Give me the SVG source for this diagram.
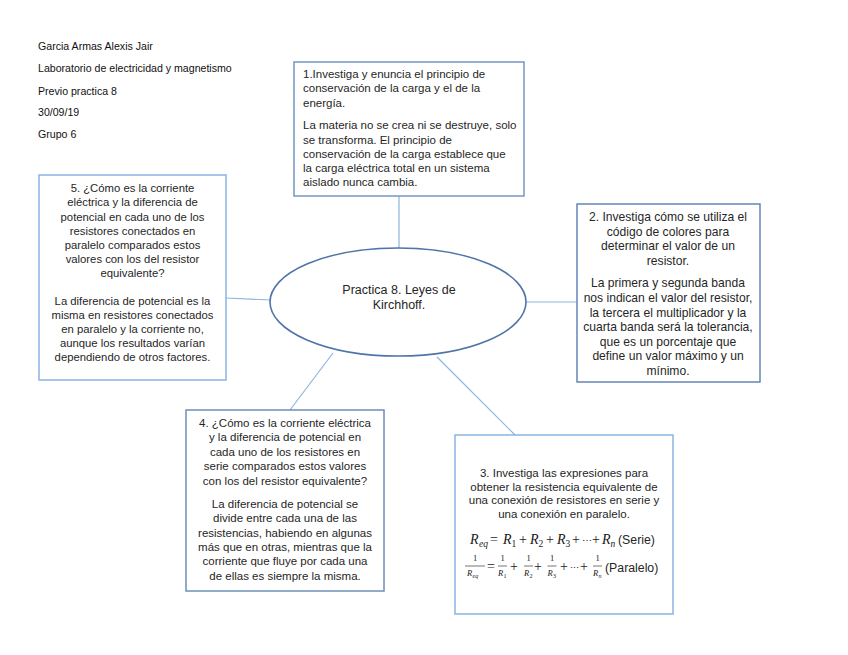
<svg xmlns="http://www.w3.org/2000/svg" width="848" height="655" viewBox="0 0 848 655">
<style>
.hdr{font-family:"Liberation Sans",Arial,sans-serif;font-size:10.6px;fill:#111}
.t{font-family:"Liberation Sans",Arial,sans-serif;font-size:11.5px;fill:#262626}
.c{text-anchor:middle}
.box{fill:#fff;stroke-width:1.5}
.conn{stroke:#8fb4e0;stroke-width:1.2;fill:none}
.m{font-family:"Liberation Serif","Times New Roman",serif;font-style:italic;fill:#1a1a1a}
.mo{font-family:"Liberation Serif","Times New Roman",serif;fill:#1a1a1a}
.bar{stroke:#1a1a1a;stroke-width:0.6}
</style>
<rect width="848" height="655" fill="#fff"/>
<g id="header">
<text class="hdr" x="38" y="50">Garcia Armas Alexis Jair</text>
<text class="hdr" x="38" y="72">Laboratorio de electricidad y magnetismo</text>
<text class="hdr" x="38" y="95">Previo practica 8</text>
<text class="hdr" x="38" y="116">30/09/19</text>
<text class="hdr" x="38" y="138">Grupo 6</text>
</g>
<g id="connectors">
<line class="conn" x1="399" y1="196" x2="399" y2="249"/>
<line class="conn" x1="226" y1="298" x2="271" y2="300"/>
<line class="conn" x1="526" y1="302" x2="577" y2="302"/>
<line class="conn" x1="333" y1="353" x2="290" y2="410"/>
<line class="conn" x1="437" y1="357" x2="515" y2="435"/>
</g>
<g id="center">
<ellipse cx="398" cy="302" rx="128" ry="54" fill="#fff" stroke="#4f74a8" stroke-width="1.6"/>
<text class="t c" x="399" y="294" style="font-size:12.5px">Practica 8. Leyes de</text>
<text class="t c" x="399" y="309" style="font-size:12.5px">Kirchhoff.</text>
</g>
<g id="box1">
<rect class="box" x="294" y="62" width="230" height="134" stroke="#7497c4"/>
<text class="t" x="303" y="78">1.Investiga y enuncia el principio de</text>
<text class="t" x="303" y="92">conservación de la carga y el de la</text>
<text class="t" x="303" y="106.5">energía.</text>
<text class="t" x="303" y="129">La materia no se crea ni se destruye, solo</text>
<text class="t" x="303" y="143.5">se transforma. El principio de</text>
<text class="t" x="303" y="157.5">conservación de la carga establece que</text>
<text class="t" x="303" y="172">la carga eléctrica total en un sistema</text>
<text class="t" x="303" y="186">aislado nunca cambia.</text>
</g>
<g id="box2">
<rect class="box" x="577" y="204" width="183" height="178" stroke="#6386b6"/>
<g class="t c" style="font-size:12.1px">
<text x="668" y="221">2. Investiga cómo se utiliza el</text>
<text x="668" y="235.5">código de colores para</text>
<text x="668" y="250">determinar el valor de un</text>
<text x="668" y="264.5">resistor.</text>
<text x="668" y="287">La primera y segunda banda</text>
<text x="668" y="302">nos indican el valor del resistor,</text>
<text x="668" y="316.5">la tercera el multiplicador y la</text>
<text x="668" y="331">cuarta banda será la tolerancia,</text>
<text x="668" y="345.5">que es un porcentaje que</text>
<text x="668" y="360">define un valor máximo y un</text>
<text x="668" y="374.5">mínimo.</text>
</g>
</g>
<g id="box3">
<rect class="box" x="455" y="435" width="218" height="179" stroke="#8ab4e3"/>
<g class="t c" style="font-size:11.5px">
<text x="564" y="477">3. Investiga las expresiones para</text>
<text x="564" y="490.5">obtener la resistencia equivalente de</text>
<text x="564" y="504">una conexión de resistores en serie y</text>
<text x="564" y="517.5">una conexión en paralelo.</text>
</g>
<g id="eq-serie">
<text class="m" x="470" y="544" font-size="14">R</text>
<text class="m" x="479" y="547" font-size="9.5">eq</text>
<text class="mo" x="490" y="544" font-size="14">=</text>
<text class="m" x="503" y="544" font-size="14">R</text>
<text class="mo" x="511.5" y="547" font-size="9.5">1</text>
<text class="mo" x="519" y="544" font-size="14">+</text>
<text class="m" x="530" y="544" font-size="14">R</text>
<text class="mo" x="538.5" y="547" font-size="9.5">2</text>
<text class="mo" x="546" y="544" font-size="14">+</text>
<text class="m" x="557" y="544" font-size="14">R</text>
<text class="mo" x="565.5" y="547" font-size="9.5">3</text>
<text class="mo" x="572" y="544" font-size="14">+</text>
<text class="mo" x="582" y="544" font-size="10">⋯</text>
<text class="mo" x="592" y="544" font-size="14">+</text>
<text class="m" x="602" y="544" font-size="14">R</text>
<text class="m" x="610.5" y="547" font-size="9.5">n</text>
<text class="t" x="618" y="544" style="font-size:12.3px">(Serie)</text>
</g>
<g id="eq-paralelo">
<text class="mo c" x="475" y="561" font-size="8.5">1</text>
<line class="bar" x1="465" y1="566" x2="485" y2="566"/>
<text class="m" x="467" y="576" font-size="8.5">R</text>
<text class="m" x="472.5" y="578" font-size="6">eq</text>
<text class="mo" x="487" y="571" font-size="14">=</text>
<text class="mo c" x="502.5" y="561" font-size="8.5">1</text>
<line class="bar" x1="498" y1="566" x2="507" y2="566"/>
<text class="m" x="498" y="576" font-size="8.5">R</text>
<text class="mo" x="503.5" y="578" font-size="6">1</text>
<text class="mo" x="510" y="571" font-size="14">+</text>
<text class="mo c" x="528.5" y="561" font-size="8.5">1</text>
<line class="bar" x1="524" y1="566" x2="533" y2="566"/>
<text class="m" x="524" y="576" font-size="8.5">R</text>
<text class="mo" x="529.5" y="578" font-size="6">2</text>
<text class="mo" x="534" y="571" font-size="14">+</text>
<text class="mo c" x="552" y="561" font-size="8.5">1</text>
<line class="bar" x1="547.5" y1="566" x2="556.5" y2="566"/>
<text class="m" x="547.5" y="576" font-size="8.5">R</text>
<text class="mo" x="553" y="578" font-size="6">3</text>
<text class="mo" x="560" y="571" font-size="14">+</text>
<text class="mo" x="570" y="571" font-size="9">⋯</text>
<text class="mo" x="580" y="571" font-size="14">+</text>
<text class="mo c" x="597.5" y="561" font-size="8.5">1</text>
<line class="bar" x1="593" y1="566" x2="602" y2="566"/>
<text class="m" x="593" y="576" font-size="8.5">R</text>
<text class="m" x="598.5" y="578" font-size="6">n</text>
<text class="t" x="605" y="572" style="font-size:12.3px">(Paralelo)</text>
</g>
</g>
<g id="box4">
<rect class="box" x="186" y="410" width="198" height="181" stroke="#6f8fb9"/>
<text class="t c" x="285" y="427">4. ¿Cómo es la corriente eléctrica</text>
<text class="t c" x="285" y="441">y la diferencia de potencial en</text>
<text class="t c" x="285" y="455.5">cada uno de los resistores en</text>
<text class="t c" x="285" y="470">serie comparados estos valores</text>
<text class="t c" x="285" y="484.5">con los del resistor equivalente?</text>
<text class="t c" x="285" y="508">La diferencia de potencial se</text>
<text class="t c" x="285" y="522">divide entre cada una de las</text>
<text class="t c" x="285" y="536.5">resistencias, habiendo en algunas</text>
<text class="t c" x="285" y="551">más que en otras, mientras que la</text>
<text class="t c" x="285" y="565">corriente que fluye por cada una</text>
<text class="t c" x="285" y="579.5">de ellas es siempre la misma.</text>
</g>
<g id="box5">
<rect class="box" x="39" y="175" width="187" height="205" stroke="#8ab4e3"/>
<g class="t c" style="font-size:11.3px">
<text x="132.5" y="192">5. ¿Cómo es la corriente</text>
<text x="132.5" y="206">eléctrica y la diferencia de</text>
<text x="132.5" y="220.5">potencial en cada uno de los</text>
<text x="132.5" y="235">resistores conectados en</text>
<text x="132.5" y="249">paralelo comparados estos</text>
<text x="132.5" y="263">valores con los del resistor</text>
<text x="132.5" y="277">equivalente?</text>
<text x="132.5" y="305">La diferencia de potencial es la</text>
<text x="132.5" y="319">misma en resistores conectados</text>
<text x="132.5" y="333">en paralelo y la corriente no,</text>
<text x="132.5" y="347">aunque los resultados varían</text>
<text x="132.5" y="361">dependiendo de otros factores.</text>
</g>
</g>
</svg>
